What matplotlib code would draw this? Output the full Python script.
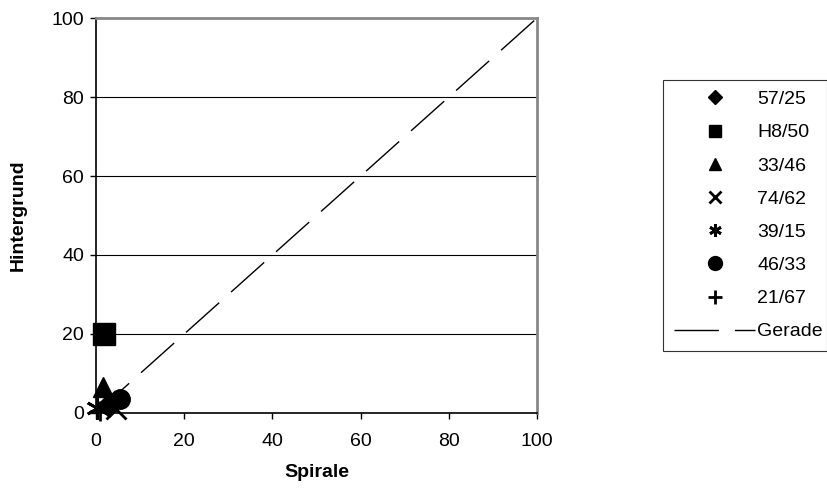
import matplotlib
matplotlib.use('Agg')
import matplotlib.pyplot as plt
from matplotlib.lines import Line2D

plt.rcParams['font.family'] = ['Liberation Sans', 'DejaVu Sans']

# Messpunkte (Spirale, Hintergrund)
labels = ['57/25', 'H8/50', '33/46', '74/62', '39/15', '46/33', '21/67']
spirale = [3.0, 1.7, 1.5, 4.5, 0.3, 5.5, 1.0]
hintergrund = [2.0, 20.0, 6.5, 1.0, 1.3, 3.5, 0.5]
markers = ['D', 's', '^', 'x', (6, 2, 0), 'o', '+']
sizes = [12, 16, 14, 14, 16, 14, 14]
legend_sizes = [7, 9, 9, 9, 9, 10, 10]
gerade = [0, 100]

dash = (0, (32, 11.5))

fig = plt.figure(figsize=(8.28, 4.95), dpi=100)
ax = fig.add_axes([0.116, 0.1657, 0.5326, 0.7979])

ax.plot(gerade, gerade, color='black', lw=1.0, ls=dash, zorder=2)

for lab, x, y, m, s in zip(labels, spirale, hintergrund, markers, sizes):
    ax.plot([x], [y], ls='none', marker=m, markersize=s, color='black',
            markeredgewidth=2 if m in ('x', '+') or isinstance(m, tuple) else 1,
            clip_on=False, zorder=3)

ax.set_xlim(0, 100)
ax.set_ylim(0, 100)
ax.set_xticks([0, 20, 40, 60, 80, 100])
ax.set_yticks([0, 20, 40, 60, 80, 100])
ax.yaxis.grid(True, color='black', lw=0.8)
ax.set_axisbelow(True)
ax.tick_params(labelsize=14, length=4.5, width=1, direction='out')
ax.tick_params(axis='x', pad=10)
ax.tick_params(axis='y', pad=4)
ax.spines['top'].set_color('#888888')
ax.spines['right'].set_color('#888888')
ax.spines['top'].set_linewidth(2)
ax.spines['right'].set_linewidth(2)
ax.spines['left'].set_linewidth(1.2)
ax.spines['bottom'].set_linewidth(1.2)
ax.set_xlabel('Spirale', fontsize=14, fontweight='bold', labelpad=10)
ax.set_ylabel('Hintergrund', fontsize=14, fontweight='bold', labelpad=18)

handles = []
for m, s in zip(markers, legend_sizes):
    handles.append(Line2D([], [], ls='none', marker=m, markersize=s, color='black',
                          markeredgewidth=2 if m in ('x', '+') or isinstance(m, tuple) else 1))
handles.append(Line2D([], [], color='black', lw=1.0, ls=dash))
leg = fig.legend(handles, labels + ['Gerade'], loc='upper left',
                 bbox_to_anchor=(663 / 828, 1 - 349 / 495, 164 / 828, 269 / 495),
                 mode='expand', fontsize=14, frameon=True, fancybox=False,
                 edgecolor='black', handlelength=4.2, handletextpad=0.1,
                 labelspacing=0.8, borderpad=0.55, borderaxespad=0)
leg.get_frame().set_linewidth(0.8)

fig.savefig('out.png', dpi=100)
